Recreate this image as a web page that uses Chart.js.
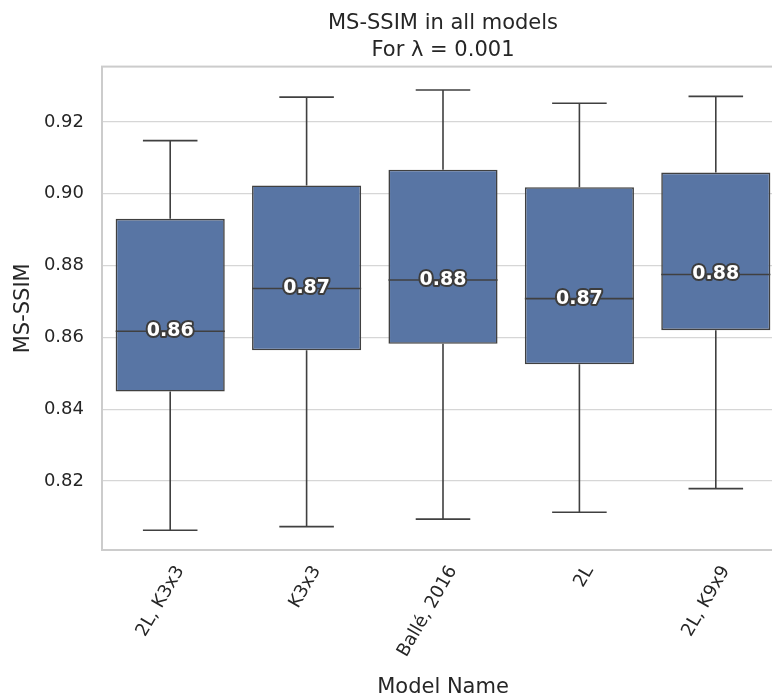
<!DOCTYPE html>
<html>
<head>
<meta charset="utf-8">
<script src="https://cdn.jsdelivr.net/npm/chart.js@4.4.0/dist/chart.umd.min.js"></script>
<style>
  html, body { margin: 0; padding: 0; background: #fff; overflow: hidden; }
  #wrap { width: 784px; height: 700px; }
</style>
</head>
<body>
<div id="wrap"><canvas id="chart" width="784" height="700"></canvas></div>
<script>
// box plot stats
const categories = ['2L, K3x3', 'K3x3', 'Ballé, 2016', '2L', '2L, K9x9'];
const whiskerLow = [0.8063, 0.8073, 0.8094, 0.8113, 0.8179];
const q1 = [0.8449, 0.8564, 0.8582, 0.8525, 0.8620];
const median = [0.8617, 0.8736, 0.8760, 0.8708, 0.8775];
const q3 = [0.8930, 0.9023, 0.9067, 0.9018, 0.9059];
const whiskerHigh = [0.9148, 0.9269, 0.9289, 0.9252, 0.9271];
const yTicks = [0.82, 0.84, 0.86, 0.88, 0.90, 0.92];

const boxColor = '#5875a4';
const lineColor = '#404040';
const textColor = '#262626';
const spineColor = '#cccccc';
const fontFamily = '"DejaVu Sans", sans-serif';

// whiskers, caps, medians and the median labels
const boxPlotExtras = {
  id: 'boxPlotExtras',
  afterDatasetsDraw(chart) {
    const ctx = chart.ctx;
    const x = chart.scales.x;
    const y = chart.scales.y;
    const band = x.getPixelForValue(1) - x.getPixelForValue(0);
    const boxHalf = band * 0.4;
    const capHalf = band * 0.2;
    ctx.save();
    ctx.strokeStyle = lineColor;
    ctx.lineWidth = 1.6;
    categories.forEach((c, i) => {
      const cx = x.getPixelForValue(i);
      const yLo = y.getPixelForValue(whiskerLow[i]);
      const yHi = y.getPixelForValue(whiskerHigh[i]);
      const yQ1 = y.getPixelForValue(q1[i]);
      const yQ3 = y.getPixelForValue(q3[i]);
      const yMed = y.getPixelForValue(median[i]);
      ctx.beginPath();
      ctx.moveTo(cx, yQ3); ctx.lineTo(cx, yHi);
      ctx.moveTo(cx - capHalf, yHi); ctx.lineTo(cx + capHalf, yHi);
      ctx.moveTo(cx, yQ1); ctx.lineTo(cx, yLo);
      ctx.moveTo(cx - capHalf, yLo); ctx.lineTo(cx + capHalf, yLo);
      ctx.moveTo(cx - boxHalf, yMed); ctx.lineTo(cx + boxHalf, yMed);
      ctx.stroke();
    });
    ctx.font = 'bold 19px ' + fontFamily;
    ctx.textAlign = 'center';
    ctx.textBaseline = 'middle';
    ctx.lineJoin = 'round';
    categories.forEach((c, i) => {
      const cx = x.getPixelForValue(i);
      const yMed = y.getPixelForValue(median[i]);
      const txt = median[i].toFixed(2);
      ctx.lineWidth = 4;
      ctx.strokeStyle = '#3c3c3c';
      ctx.strokeText(txt, cx, yMed);
      ctx.fillStyle = '#ffffff';
      ctx.fillText(txt, cx, yMed);
    });
    ctx.restore();
  },
  afterDraw(chart) {
    const {ctx, chartArea: a} = chart;
    ctx.save();
    ctx.strokeStyle = spineColor;
    ctx.lineWidth = 2;
    ctx.strokeRect(a.left, a.top, a.right - a.left, a.bottom - a.top);
    ctx.restore();
  }
};

new Chart(document.getElementById('chart'), {
  type: 'bar',
  data: {
    labels: categories,
    datasets: [{
      label: 'MS-SSIM',
      data: categories.map((c, i) => [q1[i], q3[i]]),
      backgroundColor: boxColor,
      borderColor: lineColor,
      borderWidth: 1.6,
      borderSkipped: false,
      barPercentage: 0.8,
      categoryPercentage: 1.0
    }]
  },
  options: {
    responsive: false,
    animation: false,
    layout: { padding: 0 },
    plugins: {
      legend: { display: false },
      tooltip: { enabled: false },
      title: {
        display: true,
        fullSize: false,
        text: ['MS-SSIM in all models', 'For λ = 0.001'],
        color: textColor,
        font: { family: fontFamily, size: 21, weight: 'normal', lineHeight: 1.3 },
        padding: { top: 10, bottom: 2 }
      }
    },
    scales: {
      x: {
        grid: { display: false, drawTicks: false },
        border: { display: false },
        ticks: {
          color: textColor,
          font: { family: fontFamily, size: 18 },
          minRotation: 60,
          maxRotation: 60,
          padding: 12,
          labelOffset: 10
        },
        title: {
          display: true,
          text: 'Model Name',
          color: textColor,
          font: { family: fontFamily, size: 21 },
          padding: { top: 0, bottom: 0 }
        },
        afterFit(scale) { scale.height = 150; }
      },
      y: {
        min: 0.8008,
        max: 0.9354,
        grid: { color: '#d6d6d6', lineWidth: 1.3, drawTicks: false },
        border: { display: false },
        afterBuildTicks(scale) { scale.ticks = yTicks.map(v => ({ value: v })); },
        ticks: {
          color: textColor,
          font: { family: fontFamily, size: 18 },
          padding: 18,
          callback: v => Number(v).toFixed(2)
        },
        title: {
          display: true,
          text: 'MS-SSIM',
          color: textColor,
          font: { family: fontFamily, size: 21 },
          padding: { top: 11, bottom: 0 }
        },
        afterFit(scale) { scale.width = 102; }
      }
    }
  },
  plugins: [boxPlotExtras]
});
</script>
</body>
</html>
